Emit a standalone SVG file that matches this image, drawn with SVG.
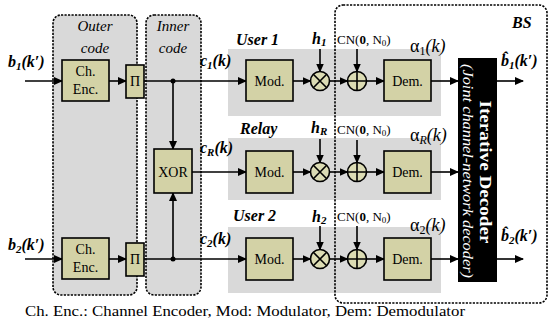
<svg xmlns="http://www.w3.org/2000/svg" width="548" height="327" viewBox="0 0 548 327">
<style>
.bg{fill:#ffffff}
.dash{fill:#d9d9d9;stroke:#000;stroke-width:1.6;stroke-dasharray:2.2 1.3}
.bsbox{fill:none;stroke:#000;stroke-width:1.6;stroke-dasharray:2.2 1.3}
.band{fill:#d9d9d9}
.blk{fill:#d3d2a6;stroke:#000;stroke-width:1.6}
.op{fill:#dcdcb4;stroke:#000;stroke-width:1.6}
.ln{fill:none;stroke:#000;stroke-width:1.6}
.arr{fill:none;stroke:#000;stroke-width:1.6;marker-end:url(#ah)}
.t{font-family:"Liberation Serif","Times New Roman",serif;fill:#000}
.box{font-size:14px;text-anchor:middle}
.lbl{font-size:16px;font-weight:bold;font-style:italic}
.usr{font-size:16px;font-weight:bold;font-style:italic}
.grp{font-size:15px;font-style:italic;text-anchor:middle}
.cn{font-size:13px}
.al{font-size:18px}
</style>
<defs>
<marker id="ah" markerWidth="9" markerHeight="8" refX="8" refY="4" orient="auto" markerUnits="userSpaceOnUse">
<path d="M0,0 L9,4 L0,8 z" fill="#000"/>
</marker>
</defs>
<rect class="bg" x="0" y="0" width="548" height="327"/>

<g id="outer-code">
<rect class="dash" x="53" y="15" width="84" height="280" rx="8"/>
<text class="t grp" x="95" y="31">Outer</text>
<text class="t grp" x="95" y="53">code</text>
</g>
<g id="inner-code">
<rect class="dash" x="146" y="15" width="55" height="280" rx="8"/>
<text class="t grp" x="173" y="31">Inner</text>
<text class="t grp" x="173" y="53">code</text>
</g>

<g id="bands">
<rect class="band" x="228" y="49" width="213" height="67"/>
<rect class="band" x="228" y="138" width="213" height="62"/>
<rect class="band" x="228" y="227" width="213" height="66"/>
</g>

<g id="bs">
<rect class="bsbox" x="335" y="5" width="212" height="298" rx="8"/>
<text class="t usr" x="512" y="28">BS</text>
</g>

<g id="connectors">
<path class="arr" d="M25,81 H62"/>
<path class="arr" d="M109,81 H126"/>
<path class="arr" d="M144,81 H246"/>
<path class="arr" d="M173,81 V149"/>
<path class="arr" d="M293,81 H310.5"/>
<path class="arr" d="M329.5,81 H347.5"/>
<path class="arr" d="M366.5,81 H384"/>
<path class="arr" d="M431,81 H458"/>
<path class="arr" d="M497,81 H523"/>
<path class="arr" d="M320,49 V71.5"/>
<path class="arr" d="M357,49 V71.5"/>

<path class="arr" d="M192,172 H246"/>
<path class="arr" d="M293,172 H310.5"/>
<path class="arr" d="M329.5,172 H347.5"/>
<path class="arr" d="M366.5,172 H384"/>
<path class="arr" d="M431,172 H458"/>
<path class="arr" d="M320,139 V162.5"/>
<path class="arr" d="M357,140 V162.5"/>

<path class="arr" d="M25,259 H62"/>
<path class="arr" d="M109,259 H126"/>
<path class="arr" d="M144,259 H246"/>
<path class="arr" d="M173,259 V193"/>
<path class="arr" d="M293,259 H310.5"/>
<path class="arr" d="M329.5,259 H347.5"/>
<path class="arr" d="M366.5,259 H384"/>
<path class="arr" d="M431,259 H458"/>
<path class="arr" d="M497,259 H523"/>
<path class="arr" d="M320,226 V249.5"/>
<path class="arr" d="M357,226 V249.5"/>
<circle cx="173" cy="81" r="2.5" fill="#000"/>
<circle cx="173" cy="259" r="2.5" fill="#000"/>
</g>

<g id="enc1">
<rect class="blk" x="62" y="60" width="47" height="41"/>
<text class="t box" x="85.5" y="76" font-size="14">Ch.</text>
<text class="t box" x="85.5" y="94" font-size="14">Enc.</text>
</g>
<g id="pi1">
<rect class="blk" x="126" y="65" width="18" height="33"/>
<text class="t box" x="135" y="86">Π</text>
</g>
<g id="enc2">
<rect class="blk" x="62" y="238" width="47" height="41"/>
<text class="t box" x="85.5" y="254" font-size="14">Ch.</text>
<text class="t box" x="85.5" y="272" font-size="14">Enc.</text>
</g>
<g id="pi2">
<rect class="blk" x="126" y="243" width="18" height="33"/>
<text class="t box" x="135" y="264">Π</text>
</g>
<g id="xor">
<rect class="blk" x="154" y="149" width="38" height="44"/>
<text class="t box" x="173" y="177">XOR</text>
</g>

<g id="mod1"><rect class="blk" x="246" y="60" width="47" height="41"/><text class="t box" x="269.5" y="86">Mod.</text></g>
<g id="modR"><rect class="blk" x="246" y="151" width="47" height="42"/><text class="t box" x="269.5" y="177">Mod.</text></g>
<g id="mod2"><rect class="blk" x="246" y="238" width="47" height="42"/><text class="t box" x="269.5" y="264">Mod.</text></g>

<g id="mul1"><circle class="op" cx="320" cy="81" r="9.5"/><path class="ln" d="M313.3,74.3 L326.7,87.7 M326.7,74.3 L313.3,87.7"/></g>
<g id="mulR"><circle class="op" cx="320" cy="172" r="9.5"/><path class="ln" d="M313.3,165.3 L326.7,178.7 M326.7,165.3 L313.3,178.7"/></g>
<g id="mul2"><circle class="op" cx="320" cy="259" r="9.5"/><path class="ln" d="M313.3,252.3 L326.7,265.7 M326.7,252.3 L313.3,265.7"/></g>
<g id="add1"><circle class="op" cx="357" cy="81" r="9.5"/><path class="ln" d="M357,71.5 V90.5 M347.5,81 H366.5"/></g>
<g id="addR"><circle class="op" cx="357" cy="172" r="9.5"/><path class="ln" d="M357,162.5 V181.5 M347.5,172 H366.5"/></g>
<g id="add2"><circle class="op" cx="357" cy="259" r="9.5"/><path class="ln" d="M357,249.5 V268.5 M347.5,259 H366.5"/></g>

<g id="dem1"><rect class="blk" x="384" y="60" width="47" height="41"/><text class="t box" x="407.5" y="86">Dem.</text></g>
<g id="demR"><rect class="blk" x="384" y="151" width="47" height="42"/><text class="t box" x="407.5" y="177">Dem.</text></g>
<g id="dem2"><rect class="blk" x="384" y="238" width="47" height="42"/><text class="t box" x="407.5" y="264">Dem.</text></g>

<g id="decoder">
<rect x="458" y="58" width="39" height="224" fill="#000"/>
<text class="t" transform="translate(479.5,172) rotate(90)" text-anchor="middle" font-size="16" font-weight="bold" style="fill:#fff" textLength="143" lengthAdjust="spacingAndGlyphs">Iterative Decoder</text>
<text class="t" transform="translate(462.5,171) rotate(90)" text-anchor="middle" font-size="14" font-style="italic" style="fill:#fff" textLength="214" lengthAdjust="spacingAndGlyphs">(Joint channel-network decoder)</text>
</g>

<g id="labels">
<text class="t lbl" x="8" y="67">b<tspan font-size="11" dy="3">1</tspan><tspan dy="-3">(k′)</tspan></text>
<text class="t lbl" x="8" y="250">b<tspan font-size="11" dy="3">2</tspan><tspan dy="-3">(k′)</tspan></text>
<text class="t lbl" x="200" y="66">c<tspan font-size="11" dy="3">1</tspan><tspan dy="-3">(k)</tspan></text>
<text class="t lbl" x="200" y="153">c<tspan font-size="11" dy="3">R</tspan><tspan dy="-3">(k)</tspan></text>
<text class="t lbl" x="200" y="244">c<tspan font-size="11" dy="3">2</tspan><tspan dy="-3">(k)</tspan></text>
<text class="t usr" x="236" y="45">User 1</text>
<text class="t usr" x="240" y="134">Relay</text>
<text class="t usr" x="233" y="221">User 2</text>
<text class="t lbl" x="312" y="44">h<tspan font-size="11" dy="2">1</tspan></text>
<text class="t lbl" x="311" y="133">h<tspan font-size="11" dy="2">R</tspan></text>
<text class="t lbl" x="312" y="222">h<tspan font-size="11" dy="2">2</tspan></text>
<text class="t cn" x="337" y="44">CN(<tspan font-weight="bold">0</tspan>, N<tspan font-size="9" dy="2">0</tspan><tspan dy="-2">)</tspan></text>
<text class="t cn" x="337" y="134">CN(<tspan font-weight="bold">0</tspan>, N<tspan font-size="9" dy="2">0</tspan><tspan dy="-2">)</tspan></text>
<text class="t cn" x="337" y="221">CN(<tspan font-weight="bold">0</tspan>, N<tspan font-size="9" dy="2">0</tspan><tspan dy="-2">)</tspan></text>
<text class="t al" x="410" y="52">α<tspan font-size="12" dy="3">1</tspan><tspan dy="-3" font-style="italic">(k)</tspan></text>
<text class="t al" x="410" y="141">α<tspan font-size="12" dy="3" font-style="italic">R</tspan><tspan dy="-3" font-style="italic">(k)</tspan></text>
<text class="t al" x="410" y="231">α<tspan font-size="12" dy="3">2</tspan><tspan dy="-3" font-style="italic">(k)</tspan></text>
<text class="t lbl" x="501" y="66">b̂<tspan font-size="11" dy="3">1</tspan><tspan dy="-3">(k′)</tspan></text>
<text class="t lbl" x="501" y="241">b̂<tspan font-size="11" dy="3">2</tspan><tspan dy="-3">(k′)</tspan></text>
</g>

<text class="t" x="25" y="316" font-size="14" textLength="440" lengthAdjust="spacingAndGlyphs">Ch. Enc.: Channel Encoder, Mod: Modulator, Dem: Demodulator</text>
</svg>
